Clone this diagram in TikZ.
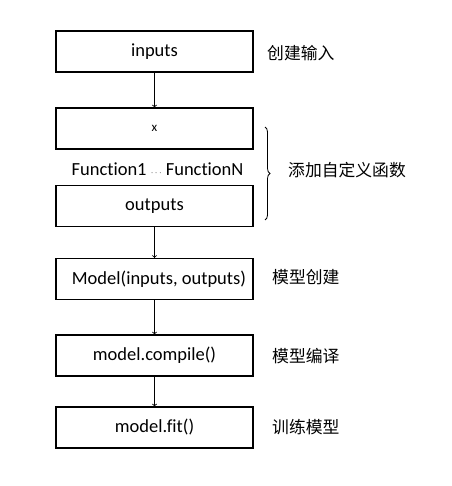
\documentclass[tikz,border=0pt]{standalone}
\usepackage{fontspec}
\setmainfont{Carlito}[Ligatures=NoCommon]
\newfontfamily\cjk{Noto Sans CJK SC}
\usetikzlibrary{decorations.pathreplacing}
\begin{document}
\begin{tikzpicture}[x=1pt,y=-1pt,
  box/.style={draw,line width=1.2pt,minimum width=197pt,minimum height=41pt,inner sep=0pt,font=\fontsize{18.5}{20}\selectfont},
  lab/.style={anchor=west,inner sep=0pt,font=\cjk\fontsize{16.8}{18}\selectfont},
  arr/.style={->,>=to,line width=0.8pt}]
\useasboundingbox (0,0) rectangle (451,486);
\node[box] (in) at (154.5,51.5) {inputs};
\node[box] (x) at (154.5,128.5) {\fontsize{13}{14}\selectfont x};
\node[inner sep=0pt,font=\fontsize{18.5}{20}\selectfont] (fn) at (157.5,169) {Function1 {\fontsize{9}{10}\selectfont$\cdots$} FunctionN};
\node[box] (out) at (154.5,206) {outputs};
\node[box] (mod) at (154.5,279) {\hspace*{9pt}Model(inputs, outputs)};
\node[box] (comp) at (154.5,355.5) {model.compile()};
\node[box] (fit) at (154.5,427.5) {model.fit()};
\node[lab] (l1) at (267,53) {创建输入};
\node[lab] (l2) at (288,170) {添加自定义函数};
\node[lab] (l3) at (272,277) {模型创建};
\node[lab] (l4) at (272,356) {模型编译};
\node[lab] (l5) at (272,427) {训练模型};
\coordinate (bt) at (265,127);
\coordinate (bb) at (265,220);
\draw[decorate,decoration={brace,amplitude=5pt},line width=0.8pt] (bt) -- (bb);
\draw[arr] (in) -- (x);
\draw[arr] (out) -- (mod);
\draw[arr] (mod) -- (comp);
\draw[arr] (comp) -- (fit);
\end{tikzpicture}
\end{document}
